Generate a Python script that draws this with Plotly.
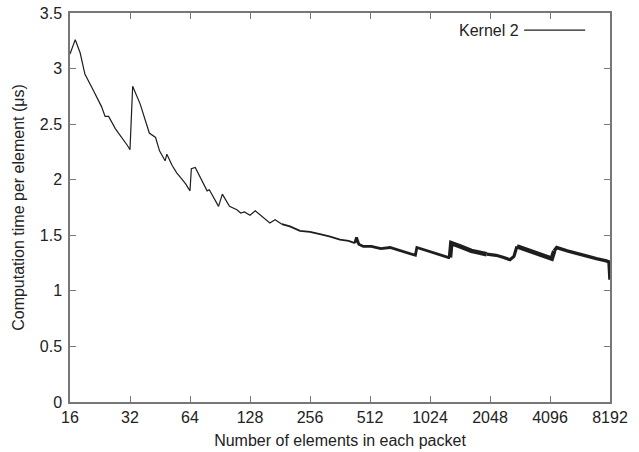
import plotly.graph_objects as go
import math

# Data (x = elements per packet, y = microseconds per element)
packet_sizes = [16, 17, 18, 19, 21, 23, 24, 25, 27, 30, 31, 32,
                33, 36, 40, 43, 45, 48, 49, 52, 55, 58, 61, 64,
                65, 68, 72, 78, 80, 85, 89, 93, 97, 101, 110, 115, 120, 128,
                136, 150, 161, 171, 185, 203, 228, 256, 287, 320, 362, 400, 430,
                438, 450, 474, 520, 580, 645, 700, 760, 845, 865,
                880, 950, 1050, 1150, 1270, 1290,
                1310, 1450, 1650, 1970, 2200, 2400, 2580, 2700,
                2795, 3100, 3500, 3900, 4180, 4300,
                4425, 5000, 6000, 7000, 7850, 8100, 8192]
kernel2_time = [3.13, 3.26, 3.14, 2.95, 2.80, 2.66, 2.57, 2.57, 2.46, 2.35, 2.31, 2.27,
                2.84, 2.68, 2.42, 2.38, 2.26, 2.17, 2.23, 2.13, 2.06, 2.01, 1.96, 1.90,
                2.10, 2.11, 2.02, 1.90, 1.91, 1.82, 1.76, 1.87, 1.81, 1.76, 1.73, 1.70, 1.71, 1.68,
                1.72, 1.66, 1.61, 1.64, 1.60, 1.58, 1.54, 1.53, 1.51, 1.49, 1.46, 1.45, 1.43,
                1.48, 1.42, 1.40, 1.40, 1.38, 1.39, 1.37, 1.35, 1.33, 1.32,
                1.39, 1.37, 1.35, 1.32, 1.30, 1.30,
                1.43, 1.40, 1.36, 1.33, 1.32, 1.30, 1.28, 1.31,
                1.40, 1.37, 1.34, 1.31, 1.29, 1.36,
                1.39, 1.36, 1.32, 1.29, 1.27, 1.26, 1.10]

x_tick_values = [16, 32, 64, 128, 256, 512, 1024, 2048, 4096, 8192]
x_tick_labels = ["16", "32", "64", "128", "256", "512", "1024", "2048", "4096", "8192"]
y_tick_values = [0, 0.5, 1, 1.5, 2, 2.5, 3, 3.5]
y_tick_labels = ["0", "0.5", "1", "1.5", "2", "2.5", "3", "3.5"]

series_name = "Kernel 2"

# segments of the trace drawn with different widths to mimic the measurement noise band
segment_breaks = [16, 185, 430, 1290, 1970, 2795, 4300, 8192]
segment_widths = [1.2, 1.8, 2.8, 4.5, 3.2, 4.5, 3.5]

LINE = "#1e1e1e"
AXIS = "#777777"
TEXT = "#222222"
FONT = "Liberation Sans, Arial, Helvetica, sans-serif"

fig = go.Figure()
for i in range(len(segment_widths)):
    lo, hi = segment_breaks[i], segment_breaks[i + 1]
    xs = [x for x in packet_sizes if lo <= x <= hi]
    ys = [y for x, y in zip(packet_sizes, kernel2_time) if lo <= x <= hi]
    fig.add_trace(go.Scatter(x=xs, y=ys, mode="lines",
                             line=dict(color=LINE, width=segment_widths[i]),
                             name=series_name, showlegend=False,
                             hoverinfo="x+y"))

axis_common = dict(showline=True, linecolor=AXIS, linewidth=1.5, mirror="ticks",
                   ticks="inside", ticklen=6, tickcolor=AXIS, tickwidth=1.3,
                   showgrid=False, zeroline=False, automargin=False,
                   ticklabeloverflow="allow",
                   tickfont=dict(family=FONT, size=16, color=TEXT))

fig.update_layout(
    width=639, height=452,
    margin=dict(l=70, r=29, t=13, b=50, autoexpand=False),
    paper_bgcolor="white", plot_bgcolor="white",
    showlegend=False,
    xaxis=dict(type="log", range=[math.log10(16), math.log10(8192)],
               tickvals=x_tick_values, ticktext=x_tick_labels,
               title=dict(text="Number of elements in each packet", standoff=10,
                          font=dict(family=FONT, size=16, color=TEXT)),
               **axis_common),
    yaxis=dict(range=[0, 3.5], tickvals=y_tick_values, ticktext=y_tick_labels,
               ticklabelstandoff=3,
               title=dict(text="Computation time per element (μs)", standoff=11,
                          font=dict(family=FONT, size=16, color=TEXT)),
               **axis_common),
)

# gnuplot-style key: text on the left, line sample on the right
fig.add_annotation(x=0.835, y=0.956, xref="paper", yref="paper", text=series_name,
                   showarrow=False, xanchor="right", yanchor="middle",
                   font=dict(family=FONT, size=16, color=TEXT))
fig.add_shape(type="line", xref="paper", yref="paper", x0=0.841, x1=0.954,
              y0=0.956, y1=0.956, line=dict(color=LINE, width=1.2))

# remove the default 8px page margin so the figure fills the window exactly
fig.write_html("out.html", config={"displayModeBar": False},
               post_script="document.body.style.margin='0';document.body.style.overflow='hidden';")
